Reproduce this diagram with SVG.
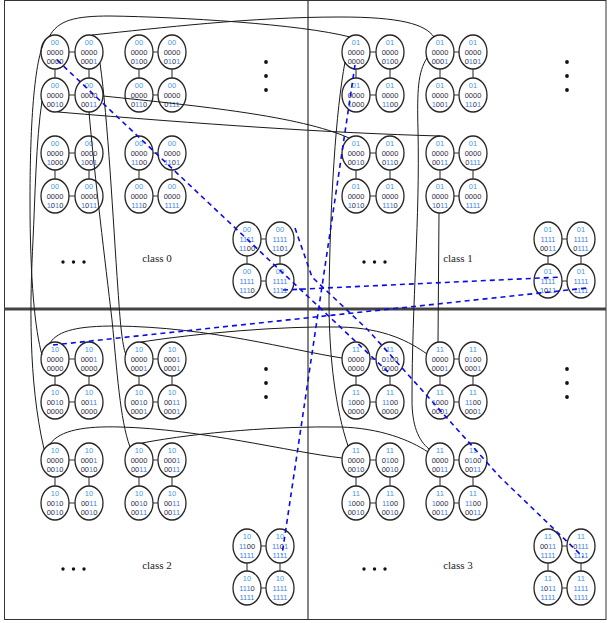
<svg xmlns="http://www.w3.org/2000/svg" width="608" height="623" viewBox="0 0 608 623">
<style>
.nd ellipse{fill:#fff;stroke:#262626;stroke-width:1.3}
.nd text{font-family:"Liberation Sans",Arial,sans-serif;font-size:7.5px;text-anchor:middle;fill:#2a2a3a}
.nd .c{fill:#3f9be0}
.nd .o{fill:#3f7fe6}
.edge{fill:none;stroke:#333;stroke-width:1.1}
.link{fill:none;stroke:#1a1a1a;stroke-width:1}
.path{fill:none;stroke:#0b0bea;stroke-width:1.6;stroke-dasharray:5 4}
.lbl{font-family:"Liberation Serif","Times New Roman",serif;font-size:11px;fill:#222;text-anchor:middle}
.dot{fill:#111}
.frame{fill:none;stroke:#333;stroke-width:1}
</style>
<defs>
<path id="intra" d="M69,52H75M69,95H75M55,69V78M89,69V78M153,52H158M153,95H158M139,69V78M172,69V78M69,153H75M69,196H75M55,170V179M89,170V179M153,153H158M153,196H158M139,170V179M172,170V179M261,239H266M261,281H266M247,256V264M280,256V264"/>
<g id="dots"><circle class="dot" cx="266" cy="62" r="1.9"/><circle class="dot" cx="266" cy="76" r="1.9"/><circle class="dot" cx="266" cy="90" r="1.9"/><circle class="dot" cx="63" cy="262" r="1.7"/><circle class="dot" cx="73.5" cy="262" r="1.7"/><circle class="dot" cx="84" cy="262" r="1.7"/></g>
</defs>
<rect class="frame" x="4.5" y="0.5" width="601.5" height="619"/>
<line x1="308" y1="0" x2="308" y2="620" stroke="#333" stroke-width="1.2"/>
<line x1="4" y1="309" x2="606" y2="309" stroke="#444" stroke-width="3"/>
<use href="#dots"/><use href="#dots" x="301"/><use href="#dots" y="307"/><use href="#dots" x="301" y="307"/>
<text class="lbl" x="157" y="262">class 0</text>
<text class="lbl" x="458" y="262">class 1</text>
<text class="lbl" x="157" y="569">class 2</text>
<text class="lbl" x="458" y="569">class 3</text>

<g id="class0">
<g id="n00-0000-0000" class="nd" transform="translate(55,52)"><ellipse rx="14" ry="17"/><text><tspan x="0" y="-7" class="c">00</tspan><tspan x="0" y="3">0000</tspan><tspan x="0" y="11.5">0000</tspan></text></g>
<g id="n00-0000-0001" class="nd" transform="translate(89,52)"><ellipse rx="14" ry="17"/><text><tspan x="0" y="-7" class="c">00</tspan><tspan x="0" y="3">0000</tspan><tspan x="0" y="11.5">000<tspan class="o">1</tspan></tspan></text></g>
<g id="n00-0000-0010" class="nd" transform="translate(55,95)"><ellipse rx="14" ry="17"/><text><tspan x="0" y="-7" class="c">00</tspan><tspan x="0" y="3">0000</tspan><tspan x="0" y="11.5">00<tspan class="o">1</tspan>0</tspan></text></g>
<g id="n00-0000-0011" class="nd" transform="translate(89,95)"><ellipse rx="14" ry="17"/><text><tspan x="0" y="-7" class="c">00</tspan><tspan x="0" y="3">0000</tspan><tspan x="0" y="11.5">00<tspan class="o">11</tspan></tspan></text></g>
<g id="n00-0000-0100" class="nd" transform="translate(139,52)"><ellipse rx="14" ry="17"/><text><tspan x="0" y="-7" class="c">00</tspan><tspan x="0" y="3">0000</tspan><tspan x="0" y="11.5">0<tspan class="o">1</tspan>00</tspan></text></g>
<g id="n00-0000-0101" class="nd" transform="translate(172,52)"><ellipse rx="14" ry="17"/><text><tspan x="0" y="-7" class="c">00</tspan><tspan x="0" y="3">0000</tspan><tspan x="0" y="11.5">0<tspan class="o">1</tspan>0<tspan class="o">1</tspan></tspan></text></g>
<g id="n00-0000-0110" class="nd" transform="translate(139,95)"><ellipse rx="14" ry="17"/><text><tspan x="0" y="-7" class="c">00</tspan><tspan x="0" y="3">0000</tspan><tspan x="0" y="11.5">0<tspan class="o">11</tspan>0</tspan></text></g>
<g id="n00-0000-0111" class="nd" transform="translate(172,95)"><ellipse rx="14" ry="17"/><text><tspan x="0" y="-7" class="c">00</tspan><tspan x="0" y="3">0000</tspan><tspan x="0" y="11.5">0<tspan class="o">111</tspan></tspan></text></g>
<g id="n00-0000-1000" class="nd" transform="translate(55,153)"><ellipse rx="14" ry="17"/><text><tspan x="0" y="-7" class="c">00</tspan><tspan x="0" y="3">0000</tspan><tspan x="0" y="11.5"><tspan class="o">1</tspan>000</tspan></text></g>
<g id="n00-0000-1001" class="nd" transform="translate(89,153)"><ellipse rx="14" ry="17"/><text><tspan x="0" y="-7" class="c">00</tspan><tspan x="0" y="3">0000</tspan><tspan x="0" y="11.5"><tspan class="o">1</tspan>00<tspan class="o">1</tspan></tspan></text></g>
<g id="n00-0000-1010" class="nd" transform="translate(55,196)"><ellipse rx="14" ry="17"/><text><tspan x="0" y="-7" class="c">00</tspan><tspan x="0" y="3">0000</tspan><tspan x="0" y="11.5"><tspan class="o">1</tspan>0<tspan class="o">1</tspan>0</tspan></text></g>
<g id="n00-0000-1011" class="nd" transform="translate(89,196)"><ellipse rx="14" ry="17"/><text><tspan x="0" y="-7" class="c">00</tspan><tspan x="0" y="3">0000</tspan><tspan x="0" y="11.5"><tspan class="o">1</tspan>0<tspan class="o">11</tspan></tspan></text></g>
<g id="n00-0000-1100" class="nd" transform="translate(139,153)"><ellipse rx="14" ry="17"/><text><tspan x="0" y="-7" class="c">00</tspan><tspan x="0" y="3">0000</tspan><tspan x="0" y="11.5"><tspan class="o">11</tspan>00</tspan></text></g>
<g id="n00-0000-1101" class="nd" transform="translate(172,153)"><ellipse rx="14" ry="17"/><text><tspan x="0" y="-7" class="c">00</tspan><tspan x="0" y="3">0000</tspan><tspan x="0" y="11.5"><tspan class="o">11</tspan>0<tspan class="o">1</tspan></tspan></text></g>
<g id="n00-0000-1110" class="nd" transform="translate(139,196)"><ellipse rx="14" ry="17"/><text><tspan x="0" y="-7" class="c">00</tspan><tspan x="0" y="3">0000</tspan><tspan x="0" y="11.5"><tspan class="o">111</tspan>0</tspan></text></g>
<g id="n00-0000-1111" class="nd" transform="translate(172,196)"><ellipse rx="14" ry="17"/><text><tspan x="0" y="-7" class="c">00</tspan><tspan x="0" y="3">0000</tspan><tspan x="0" y="11.5"><tspan class="o">1111</tspan></tspan></text></g>
<g id="n00-1111-1100" class="nd" transform="translate(247,239)"><ellipse rx="14" ry="17"/><text><tspan x="0" y="-7" class="c">00</tspan><tspan x="0" y="3"><tspan class="o">1111</tspan></tspan><tspan x="0" y="11.5"><tspan class="o">11</tspan>00</tspan></text></g>
<g id="n00-1111-1101" class="nd" transform="translate(280,239)"><ellipse rx="14" ry="17"/><text><tspan x="0" y="-7" class="c">00</tspan><tspan x="0" y="3"><tspan class="o">1111</tspan></tspan><tspan x="0" y="11.5"><tspan class="o">11</tspan>0<tspan class="o">1</tspan></tspan></text></g>
<g id="n00-1111-1110" class="nd" transform="translate(247,281)"><ellipse rx="14" ry="17"/><text><tspan x="0" y="-7" class="c">00</tspan><tspan x="0" y="3"><tspan class="o">1111</tspan></tspan><tspan x="0" y="11.5"><tspan class="o">111</tspan>0</tspan></text></g>
<g id="n00-1111-1111" class="nd" transform="translate(280,281)"><ellipse rx="14" ry="17"/><text><tspan x="0" y="-7" class="c">00</tspan><tspan x="0" y="3"><tspan class="o">1111</tspan></tspan><tspan x="0" y="11.5"><tspan class="o">1111</tspan></tspan></text></g>
</g>

<g id="class1" transform="translate(301,0)">
<g id="n01-0000-0000" class="nd" transform="translate(55,52)"><ellipse rx="14" ry="17"/><text><tspan x="0" y="-7" class="c">01</tspan><tspan x="0" y="3">0000</tspan><tspan x="0" y="11.5">0000</tspan></text></g>
<g id="n01-0000-0100" class="nd" transform="translate(89,52)"><ellipse rx="14" ry="17"/><text><tspan x="0" y="-7" class="c">01</tspan><tspan x="0" y="3">0000</tspan><tspan x="0" y="11.5">0<tspan class="o">1</tspan>00</tspan></text></g>
<g id="n01-0000-1000" class="nd" transform="translate(55,95)"><ellipse rx="14" ry="17"/><text><tspan x="0" y="-7" class="c">01</tspan><tspan x="0" y="3">0000</tspan><tspan x="0" y="11.5"><tspan class="o">1</tspan>000</tspan></text></g>
<g id="n01-0000-1100" class="nd" transform="translate(89,95)"><ellipse rx="14" ry="17"/><text><tspan x="0" y="-7" class="c">01</tspan><tspan x="0" y="3">0000</tspan><tspan x="0" y="11.5"><tspan class="o">11</tspan>00</tspan></text></g>
<g id="n01-0000-0001" class="nd" transform="translate(139,52)"><ellipse rx="14" ry="17"/><text><tspan x="0" y="-7" class="c">01</tspan><tspan x="0" y="3">0000</tspan><tspan x="0" y="11.5">000<tspan class="o">1</tspan></tspan></text></g>
<g id="n01-0000-0101" class="nd" transform="translate(172,52)"><ellipse rx="14" ry="17"/><text><tspan x="0" y="-7" class="c">01</tspan><tspan x="0" y="3">0000</tspan><tspan x="0" y="11.5">0<tspan class="o">1</tspan>0<tspan class="o">1</tspan></tspan></text></g>
<g id="n01-0000-1001" class="nd" transform="translate(139,95)"><ellipse rx="14" ry="17"/><text><tspan x="0" y="-7" class="c">01</tspan><tspan x="0" y="3">0000</tspan><tspan x="0" y="11.5"><tspan class="o">1</tspan>00<tspan class="o">1</tspan></tspan></text></g>
<g id="n01-0000-1101" class="nd" transform="translate(172,95)"><ellipse rx="14" ry="17"/><text><tspan x="0" y="-7" class="c">01</tspan><tspan x="0" y="3">0000</tspan><tspan x="0" y="11.5"><tspan class="o">11</tspan>0<tspan class="o">1</tspan></tspan></text></g>
<g id="n01-0000-0010" class="nd" transform="translate(55,153)"><ellipse rx="14" ry="17"/><text><tspan x="0" y="-7" class="c">01</tspan><tspan x="0" y="3">0000</tspan><tspan x="0" y="11.5">00<tspan class="o">1</tspan>0</tspan></text></g>
<g id="n01-0000-0110" class="nd" transform="translate(89,153)"><ellipse rx="14" ry="17"/><text><tspan x="0" y="-7" class="c">01</tspan><tspan x="0" y="3">0000</tspan><tspan x="0" y="11.5">0<tspan class="o">11</tspan>0</tspan></text></g>
<g id="n01-0000-1010" class="nd" transform="translate(55,196)"><ellipse rx="14" ry="17"/><text><tspan x="0" y="-7" class="c">01</tspan><tspan x="0" y="3">0000</tspan><tspan x="0" y="11.5"><tspan class="o">1</tspan>0<tspan class="o">1</tspan>0</tspan></text></g>
<g id="n01-0000-1110" class="nd" transform="translate(89,196)"><ellipse rx="14" ry="17"/><text><tspan x="0" y="-7" class="c">01</tspan><tspan x="0" y="3">0000</tspan><tspan x="0" y="11.5"><tspan class="o">111</tspan>0</tspan></text></g>
<g id="n01-0000-0011" class="nd" transform="translate(139,153)"><ellipse rx="14" ry="17"/><text><tspan x="0" y="-7" class="c">01</tspan><tspan x="0" y="3">0000</tspan><tspan x="0" y="11.5">00<tspan class="o">11</tspan></tspan></text></g>
<g id="n01-0000-0111" class="nd" transform="translate(172,153)"><ellipse rx="14" ry="17"/><text><tspan x="0" y="-7" class="c">01</tspan><tspan x="0" y="3">0000</tspan><tspan x="0" y="11.5">0<tspan class="o">111</tspan></tspan></text></g>
<g id="n01-0000-1011" class="nd" transform="translate(139,196)"><ellipse rx="14" ry="17"/><text><tspan x="0" y="-7" class="c">01</tspan><tspan x="0" y="3">0000</tspan><tspan x="0" y="11.5"><tspan class="o">1</tspan>0<tspan class="o">11</tspan></tspan></text></g>
<g id="n01-0000-1111" class="nd" transform="translate(172,196)"><ellipse rx="14" ry="17"/><text><tspan x="0" y="-7" class="c">01</tspan><tspan x="0" y="3">0000</tspan><tspan x="0" y="11.5"><tspan class="o">1111</tspan></tspan></text></g>
<g id="n01-1111-0011" class="nd" transform="translate(247,239)"><ellipse rx="14" ry="17"/><text><tspan x="0" y="-7" class="c">01</tspan><tspan x="0" y="3"><tspan class="o">1111</tspan></tspan><tspan x="0" y="11.5">00<tspan class="o">11</tspan></tspan></text></g>
<g id="n01-1111-0111" class="nd" transform="translate(280,239)"><ellipse rx="14" ry="17"/><text><tspan x="0" y="-7" class="c">01</tspan><tspan x="0" y="3"><tspan class="o">1111</tspan></tspan><tspan x="0" y="11.5">0<tspan class="o">111</tspan></tspan></text></g>
<g id="n01-1111-1011" class="nd" transform="translate(247,281)"><ellipse rx="14" ry="17"/><text><tspan x="0" y="-7" class="c">01</tspan><tspan x="0" y="3"><tspan class="o">1111</tspan></tspan><tspan x="0" y="11.5"><tspan class="o">1</tspan>0<tspan class="o">11</tspan></tspan></text></g>
<g id="n01-1111-1111" class="nd" transform="translate(280,281)"><ellipse rx="14" ry="17"/><text><tspan x="0" y="-7" class="c">01</tspan><tspan x="0" y="3"><tspan class="o">1111</tspan></tspan><tspan x="0" y="11.5"><tspan class="o">1111</tspan></tspan></text></g>
</g>

<g id="class2" transform="translate(0,307)">
<g id="n10-0000-0000" class="nd" transform="translate(55,52)"><ellipse rx="14" ry="17"/><text><tspan x="0" y="-7" class="c">10</tspan><tspan x="0" y="3">0000</tspan><tspan x="0" y="11.5">0000</tspan></text></g>
<g id="n10-0001-0000" class="nd" transform="translate(89,52)"><ellipse rx="14" ry="17"/><text><tspan x="0" y="-7" class="c">10</tspan><tspan x="0" y="3">000<tspan class="o">1</tspan></tspan><tspan x="0" y="11.5">0000</tspan></text></g>
<g id="n10-0010-0000" class="nd" transform="translate(55,95)"><ellipse rx="14" ry="17"/><text><tspan x="0" y="-7" class="c">10</tspan><tspan x="0" y="3">00<tspan class="o">1</tspan>0</tspan><tspan x="0" y="11.5">0000</tspan></text></g>
<g id="n10-0011-0000" class="nd" transform="translate(89,95)"><ellipse rx="14" ry="17"/><text><tspan x="0" y="-7" class="c">10</tspan><tspan x="0" y="3">00<tspan class="o">11</tspan></tspan><tspan x="0" y="11.5">0000</tspan></text></g>
<g id="n10-0000-0001" class="nd" transform="translate(139,52)"><ellipse rx="14" ry="17"/><text><tspan x="0" y="-7" class="c">10</tspan><tspan x="0" y="3">0000</tspan><tspan x="0" y="11.5">000<tspan class="o">1</tspan></tspan></text></g>
<g id="n10-0001-0001" class="nd" transform="translate(172,52)"><ellipse rx="14" ry="17"/><text><tspan x="0" y="-7" class="c">10</tspan><tspan x="0" y="3">000<tspan class="o">1</tspan></tspan><tspan x="0" y="11.5">000<tspan class="o">1</tspan></tspan></text></g>
<g id="n10-0010-0001" class="nd" transform="translate(139,95)"><ellipse rx="14" ry="17"/><text><tspan x="0" y="-7" class="c">10</tspan><tspan x="0" y="3">00<tspan class="o">1</tspan>0</tspan><tspan x="0" y="11.5">000<tspan class="o">1</tspan></tspan></text></g>
<g id="n10-0011-0001" class="nd" transform="translate(172,95)"><ellipse rx="14" ry="17"/><text><tspan x="0" y="-7" class="c">10</tspan><tspan x="0" y="3">00<tspan class="o">11</tspan></tspan><tspan x="0" y="11.5">000<tspan class="o">1</tspan></tspan></text></g>
<g id="n10-0000-0010" class="nd" transform="translate(55,153)"><ellipse rx="14" ry="17"/><text><tspan x="0" y="-7" class="c">10</tspan><tspan x="0" y="3">0000</tspan><tspan x="0" y="11.5">00<tspan class="o">1</tspan>0</tspan></text></g>
<g id="n10-0001-0010" class="nd" transform="translate(89,153)"><ellipse rx="14" ry="17"/><text><tspan x="0" y="-7" class="c">10</tspan><tspan x="0" y="3">000<tspan class="o">1</tspan></tspan><tspan x="0" y="11.5">00<tspan class="o">1</tspan>0</tspan></text></g>
<g id="n10-0010-0010" class="nd" transform="translate(55,196)"><ellipse rx="14" ry="17"/><text><tspan x="0" y="-7" class="c">10</tspan><tspan x="0" y="3">00<tspan class="o">1</tspan>0</tspan><tspan x="0" y="11.5">00<tspan class="o">1</tspan>0</tspan></text></g>
<g id="n10-0011-0010" class="nd" transform="translate(89,196)"><ellipse rx="14" ry="17"/><text><tspan x="0" y="-7" class="c">10</tspan><tspan x="0" y="3">00<tspan class="o">11</tspan></tspan><tspan x="0" y="11.5">00<tspan class="o">1</tspan>0</tspan></text></g>
<g id="n10-0000-0011" class="nd" transform="translate(139,153)"><ellipse rx="14" ry="17"/><text><tspan x="0" y="-7" class="c">10</tspan><tspan x="0" y="3">0000</tspan><tspan x="0" y="11.5">00<tspan class="o">11</tspan></tspan></text></g>
<g id="n10-0001-0011" class="nd" transform="translate(172,153)"><ellipse rx="14" ry="17"/><text><tspan x="0" y="-7" class="c">10</tspan><tspan x="0" y="3">000<tspan class="o">1</tspan></tspan><tspan x="0" y="11.5">00<tspan class="o">11</tspan></tspan></text></g>
<g id="n10-0010-0011" class="nd" transform="translate(139,196)"><ellipse rx="14" ry="17"/><text><tspan x="0" y="-7" class="c">10</tspan><tspan x="0" y="3">00<tspan class="o">1</tspan>0</tspan><tspan x="0" y="11.5">00<tspan class="o">11</tspan></tspan></text></g>
<g id="n10-0011-0011" class="nd" transform="translate(172,196)"><ellipse rx="14" ry="17"/><text><tspan x="0" y="-7" class="c">10</tspan><tspan x="0" y="3">00<tspan class="o">11</tspan></tspan><tspan x="0" y="11.5">00<tspan class="o">11</tspan></tspan></text></g>
<g id="n10-1100-1111" class="nd" transform="translate(247,239)"><ellipse rx="14" ry="17"/><text><tspan x="0" y="-7" class="c">10</tspan><tspan x="0" y="3"><tspan class="o">11</tspan>00</tspan><tspan x="0" y="11.5"><tspan class="o">1111</tspan></tspan></text></g>
<g id="n10-1101-1111" class="nd" transform="translate(280,239)"><ellipse rx="14" ry="17"/><text><tspan x="0" y="-7" class="c">10</tspan><tspan x="0" y="3"><tspan class="o">11</tspan>0<tspan class="o">1</tspan></tspan><tspan x="0" y="11.5"><tspan class="o">1111</tspan></tspan></text></g>
<g id="n10-1110-1111" class="nd" transform="translate(247,281)"><ellipse rx="14" ry="17"/><text><tspan x="0" y="-7" class="c">10</tspan><tspan x="0" y="3"><tspan class="o">111</tspan>0</tspan><tspan x="0" y="11.5"><tspan class="o">1111</tspan></tspan></text></g>
<g id="n10-1111-1111" class="nd" transform="translate(280,281)"><ellipse rx="14" ry="17"/><text><tspan x="0" y="-7" class="c">10</tspan><tspan x="0" y="3"><tspan class="o">1111</tspan></tspan><tspan x="0" y="11.5"><tspan class="o">1111</tspan></tspan></text></g>
</g>

<g id="class3" transform="translate(301,307)">
<g id="n11-0000-0000" class="nd" transform="translate(55,52)"><ellipse rx="14" ry="17"/><text><tspan x="0" y="-7" class="c">11</tspan><tspan x="0" y="3">0000</tspan><tspan x="0" y="11.5">0000</tspan></text></g>
<g id="n11-0100-0000" class="nd" transform="translate(89,52)"><ellipse rx="14" ry="17"/><text><tspan x="0" y="-7" class="c">11</tspan><tspan x="0" y="3">0<tspan class="o">1</tspan>00</tspan><tspan x="0" y="11.5">0000</tspan></text></g>
<g id="n11-1000-0000" class="nd" transform="translate(55,95)"><ellipse rx="14" ry="17"/><text><tspan x="0" y="-7" class="c">11</tspan><tspan x="0" y="3"><tspan class="o">1</tspan>000</tspan><tspan x="0" y="11.5">0000</tspan></text></g>
<g id="n11-1100-0000" class="nd" transform="translate(89,95)"><ellipse rx="14" ry="17"/><text><tspan x="0" y="-7" class="c">11</tspan><tspan x="0" y="3"><tspan class="o">11</tspan>00</tspan><tspan x="0" y="11.5">0000</tspan></text></g>
<g id="n11-0000-0001" class="nd" transform="translate(139,52)"><ellipse rx="14" ry="17"/><text><tspan x="0" y="-7" class="c">11</tspan><tspan x="0" y="3">0000</tspan><tspan x="0" y="11.5">000<tspan class="o">1</tspan></tspan></text></g>
<g id="n11-0100-0001" class="nd" transform="translate(172,52)"><ellipse rx="14" ry="17"/><text><tspan x="0" y="-7" class="c">11</tspan><tspan x="0" y="3">0<tspan class="o">1</tspan>00</tspan><tspan x="0" y="11.5">000<tspan class="o">1</tspan></tspan></text></g>
<g id="n11-1000-0001" class="nd" transform="translate(139,95)"><ellipse rx="14" ry="17"/><text><tspan x="0" y="-7" class="c">11</tspan><tspan x="0" y="3"><tspan class="o">1</tspan>000</tspan><tspan x="0" y="11.5">000<tspan class="o">1</tspan></tspan></text></g>
<g id="n11-1100-0001" class="nd" transform="translate(172,95)"><ellipse rx="14" ry="17"/><text><tspan x="0" y="-7" class="c">11</tspan><tspan x="0" y="3"><tspan class="o">11</tspan>00</tspan><tspan x="0" y="11.5">000<tspan class="o">1</tspan></tspan></text></g>
<g id="n11-0000-0010" class="nd" transform="translate(55,153)"><ellipse rx="14" ry="17"/><text><tspan x="0" y="-7" class="c">11</tspan><tspan x="0" y="3">0000</tspan><tspan x="0" y="11.5">00<tspan class="o">1</tspan>0</tspan></text></g>
<g id="n11-0100-0010" class="nd" transform="translate(89,153)"><ellipse rx="14" ry="17"/><text><tspan x="0" y="-7" class="c">11</tspan><tspan x="0" y="3">0<tspan class="o">1</tspan>00</tspan><tspan x="0" y="11.5">00<tspan class="o">1</tspan>0</tspan></text></g>
<g id="n11-1000-0010" class="nd" transform="translate(55,196)"><ellipse rx="14" ry="17"/><text><tspan x="0" y="-7" class="c">11</tspan><tspan x="0" y="3"><tspan class="o">1</tspan>000</tspan><tspan x="0" y="11.5">00<tspan class="o">1</tspan>0</tspan></text></g>
<g id="n11-1100-0010" class="nd" transform="translate(89,196)"><ellipse rx="14" ry="17"/><text><tspan x="0" y="-7" class="c">11</tspan><tspan x="0" y="3"><tspan class="o">11</tspan>00</tspan><tspan x="0" y="11.5">00<tspan class="o">1</tspan>0</tspan></text></g>
<g id="n11-0000-0011" class="nd" transform="translate(139,153)"><ellipse rx="14" ry="17"/><text><tspan x="0" y="-7" class="c">11</tspan><tspan x="0" y="3">0000</tspan><tspan x="0" y="11.5">00<tspan class="o">11</tspan></tspan></text></g>
<g id="n11-0100-0011" class="nd" transform="translate(172,153)"><ellipse rx="14" ry="17"/><text><tspan x="0" y="-7" class="c">11</tspan><tspan x="0" y="3">0<tspan class="o">1</tspan>00</tspan><tspan x="0" y="11.5">00<tspan class="o">11</tspan></tspan></text></g>
<g id="n11-1000-0011" class="nd" transform="translate(139,196)"><ellipse rx="14" ry="17"/><text><tspan x="0" y="-7" class="c">11</tspan><tspan x="0" y="3"><tspan class="o">1</tspan>000</tspan><tspan x="0" y="11.5">00<tspan class="o">11</tspan></tspan></text></g>
<g id="n11-1100-0011" class="nd" transform="translate(172,196)"><ellipse rx="14" ry="17"/><text><tspan x="0" y="-7" class="c">11</tspan><tspan x="0" y="3"><tspan class="o">11</tspan>00</tspan><tspan x="0" y="11.5">00<tspan class="o">11</tspan></tspan></text></g>
<g id="n11-0011-1111" class="nd" transform="translate(247,239)"><ellipse rx="14" ry="17"/><text><tspan x="0" y="-7" class="c">11</tspan><tspan x="0" y="3">00<tspan class="o">11</tspan></tspan><tspan x="0" y="11.5"><tspan class="o">1111</tspan></tspan></text></g>
<g id="n11-0111-1111" class="nd" transform="translate(280,239)"><ellipse rx="14" ry="17"/><text><tspan x="0" y="-7" class="c">11</tspan><tspan x="0" y="3">0<tspan class="o">111</tspan></tspan><tspan x="0" y="11.5"><tspan class="o">1111</tspan></tspan></text></g>
<g id="n11-1011-1111" class="nd" transform="translate(247,281)"><ellipse rx="14" ry="17"/><text><tspan x="0" y="-7" class="c">11</tspan><tspan x="0" y="3"><tspan class="o">1</tspan>0<tspan class="o">11</tspan></tspan><tspan x="0" y="11.5"><tspan class="o">1111</tspan></tspan></text></g>
<g id="n11-1111-1111" class="nd" transform="translate(280,281)"><ellipse rx="14" ry="17"/><text><tspan x="0" y="-7" class="c">11</tspan><tspan x="0" y="3"><tspan class="o">1111</tspan></tspan><tspan x="0" y="11.5"><tspan class="o">1111</tspan></tspan></text></g>
</g>

<g id="connectors">
<use href="#intra" class="edge"/>
<use href="#intra" class="edge" x="301"/>
<use href="#intra" class="edge" y="307"/>
<use href="#intra" class="edge" x="301" y="307"/>
<path class="link" d="M49,37C58,20 75,16 110,16C180,17 300,24 350,37"/>
<path class="link" d="M92,35C160,28 250,17 340,17C400,17 425,24 434,37"/>
<path class="link" d="M103,96C200,106 300,116 349,138"/>
<path class="link" d="M58,112C200,124 330,133 440,136"/>
<path class="link" d="M47,38C36,50 30,110 30,200C30,280 35,330 42,355"/>
<path class="link" d="M42,101C36,140 35,200 33,240C30,300 28,380 44,449"/>
<path class="link" d="M100,63C108,120 113,220 118,290C120,320 122,345 126,355"/>
<path class="link" d="M89,112C95,180 105,260 112,320C117,370 120,420 130,447"/>
<path class="link" d="M345,62C336,110 330,200 329,300C329,360 336,410 348,446"/>
<path class="link" d="M427,58C418,72 417,90 418,130C420,220 412,300 412,400C412,425 418,440 429,449"/>
<path class="link" d="M439,213L438,342"/>
<path class="link" d="M50,343C58,330 80,326 115,326C210,327 290,350 342,358"/>
<path class="link" d="M141,342C200,333 280,326 340,327C385,328 410,342 427,354"/>
<path class="link" d="M50,444C60,430 85,426 120,427C200,429 290,452 342,458"/>
<path class="link" d="M142,443C200,432 280,426 340,427C380,428 410,440 428,452"/>
<path class="path" d="M57,60L388,372"/>
<path class="path" d="M295,228L312,277L368,330L500,477L583,557"/>
<path class="path" d="M355,65L282,555"/>
<path class="path" d="M53,345L587,288"/>
<path class="path" d="M283,290L562,277"/>
</g>
</svg>
